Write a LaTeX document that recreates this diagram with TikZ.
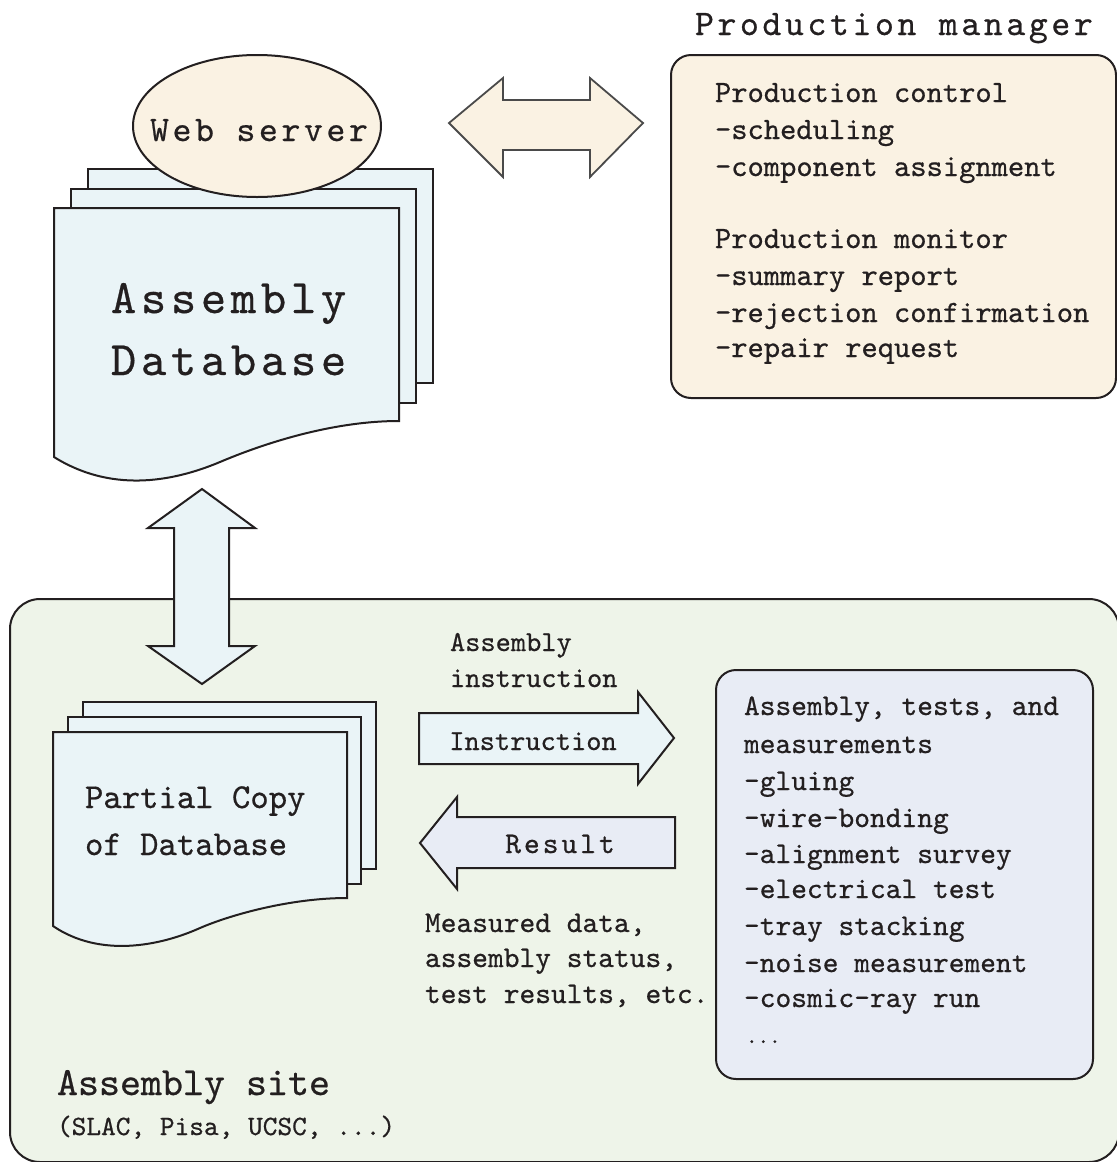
\documentclass[tikz,border=0pt]{standalone}
\usepackage{fontspec}
\usetikzlibrary{shapes.geometric}
\newfontfamily\dgf{lmmono10-regular.otf}[FakeBold=0.6]
\newfontfamily\dgfw{lmmono10-regular.otf}[LetterSpace=10,FakeBold=0.6]
\definecolor{cream}{HTML}{FAF2E3}
\definecolor{lblue}{HTML}{EAF4F7}
\definecolor{lav}{HTML}{E8ECF5}
\definecolor{lgreen}{HTML}{EEF4E9}
\definecolor{olc}{HTML}{231F20}
\definecolor{arrgray}{HTML}{4A4A4A}
\begin{document}
\begin{tikzpicture}[x=0.5pt,y=-0.5pt,line join=miter,
  ol/.style={draw=olc,line width=1pt},
  txt/.style={inner sep=0pt,outer sep=0pt,anchor=base west,text=olc},
  ctxt/.style={inner sep=0pt,outer sep=0pt,anchor=base,text=olc},
  fbig/.style={font=\dgfw\fontsize{18}{18}\selectfont},
  fdb/.style={font=\dgfw\fontsize{24}{24}\selectfont},
  fpc/.style={font=\dgf\fontsize{17.5}{17.5}\selectfont},
  fbox/.style={font=\dgf\fontsize{15.5}{15.5}\selectfont},
  fsite/.style={font=\dgf\fontsize{15}{15}\selectfont},
  flab/.style={font=\dgf\fontsize{14.5}{14.5}\selectfont},
]
\useasboundingbox (0,0) rectangle (1117,1162);

% ---------- Assembly site box ----------
\draw[ol,fill=lgreen,rounded corners=15pt] (10,599) rectangle (1119,1162);

% ---------- Assembly Database stack ----------
\draw[ol,fill=lblue] (88,169) rectangle (433,383);
\draw[ol,fill=lblue] (71,189) rectangle (416,403);
\draw[ol,fill=lblue] (54,208) -- (399,208) -- (399,421)
   .. controls (330,421) and (260,445) .. (220,462)
   .. controls (170,483) and (110,492) .. (54,457) -- cycle;
\node[txt,fdb] (adb1) at (111,313) {Assembly};
\node[txt,fdb] (adb2) at (111,375) {Database};

% ---------- Web server ----------
\node[ellipse,ol,fill=cream,minimum width=124pt,minimum height=71pt,inner sep=0pt] (web) at (257,126) {};
\node[ctxt,fbig] (webt) at (259,141) {Web server};

% ---------- top double arrow ----------
\coordinate (ha) at (449,123);
\coordinate (hb) at (643,123);
\draw[draw=arrgray,line width=0.9pt,fill=cream]
  (ha) -- (503,78) -- (503,100) -- (590,100) -- (590,78) -- (hb)
  -- (590,177) -- (590,150) -- (503,150) -- (503,177) -- cycle;

% ---------- Production manager ----------
\node[txt,fbig] (pmt) at (695,35) {Production manager};
\draw[ol,fill=cream,rounded corners=10pt] (671,55) rectangle (1116,398);
\node[txt,fbox] (pm1) at (715,102) {Production control};
\node[txt,fbox] (pm2) at (715,139) {-scheduling};
\node[txt,fbox] (pm3) at (715,176) {-component assignment};
\node[txt,fbox] (pm4) at (715,248) {Production monitor};
\node[txt,fbox] (pm5) at (715,285) {-summary report};
\node[txt,fbox] (pm6) at (715,322) {-rejection confirmation};
\node[txt,fbox] (pm7) at (715,357) {-repair request};

% ---------- vertical double arrow ----------
\coordinate (va) at (202,489);
\coordinate (vb) at (202,684);
\draw[ol,fill=lblue]
  (va) -- (255,528) -- (229,528) -- (229,646) -- (255,646) -- (vb)
  -- (148,646) -- (174,646) -- (174,528) -- (148,528) -- cycle;

% ---------- Partial copy stack ----------
\draw[ol,fill=lblue] (83,702) rectangle (376,869);
\draw[ol,fill=lblue] (68,717) rectangle (361,884);
\draw[ol,fill=lblue] (53,732) -- (347,732) -- (347,898)
   .. controls (290,898) and (230,915) .. (200,928)
   .. controls (160,946) and (100,958) .. (53,926) -- cycle;
\node[txt,fpc] (pc1) at (85,808) {Partial Copy};
\node[txt,fpc] (pc2) at (85,855) {of Database};

% ---------- Instruction / Result arrows ----------
\node[txt,flab] (ai1) at (450,651) {Assembly};
\node[txt,flab] (ai2) at (450,687) {instruction};
\draw[ol,fill=lblue] (419,713) -- (638,713) -- (638,692) -- (674,738)
  -- (638,784) -- (638,764) -- (419,764) -- cycle;
\node[ctxt,flab] (inst) at (533,750) {Instruction};
\draw[ol,fill=lav] (675,817) -- (457,817) -- (457,797) -- (420,843)
  -- (457,889) -- (457,868) -- (675,868) -- cycle;
\node[ctxt,font=\dgfw\fontsize{15}{15}\selectfont] (res) at (560,853) {Result};
\node[txt,fsite] (md1) at (425,932) {Measured data,};
\node[txt,fsite] (md2) at (425,967) {assembly status,};
\node[txt,fsite] (md3) at (425,1003) {test results, etc.};

% ---------- Assembly tests box ----------
\draw[ol,fill=lav,rounded corners=10pt] (716,670) rectangle (1093,1079);
\node[txt,fsite] (at1) at (744,715) {Assembly, tests, and};
\node[txt,fsite] (at2) at (744,753) {measurements};
\node[txt,fsite] (at3) at (744,790) {-gluing};
\node[txt,fsite] (at4) at (744,827) {-wire-bonding};
\node[txt,fsite] (at5) at (744,863) {-alignment survey};
\node[txt,fsite] (at6) at (744,898) {-electrical test};
\node[txt,fsite] (at7) at (744,935) {-tray stacking};
\node[txt,fsite] (at8) at (744,972) {-noise measurement};
\node[txt,fsite] (at9) at (744,1007) {-cosmic-ray run};
\node[txt,font=\dgf\fontsize{11}{11}\selectfont] (at10) at (746,1043) {...};

% ---------- Assembly site label ----------
\node[txt,font=\dgf\fontsize{20}{20}\selectfont] (site1) at (57,1095) {Assembly site};
\node[txt,font=\dgf\fontsize{14}{14}\selectfont] (site2) at (57,1135) {(SLAC, Pisa, UCSC, ...)};
\end{tikzpicture}
\end{document}
